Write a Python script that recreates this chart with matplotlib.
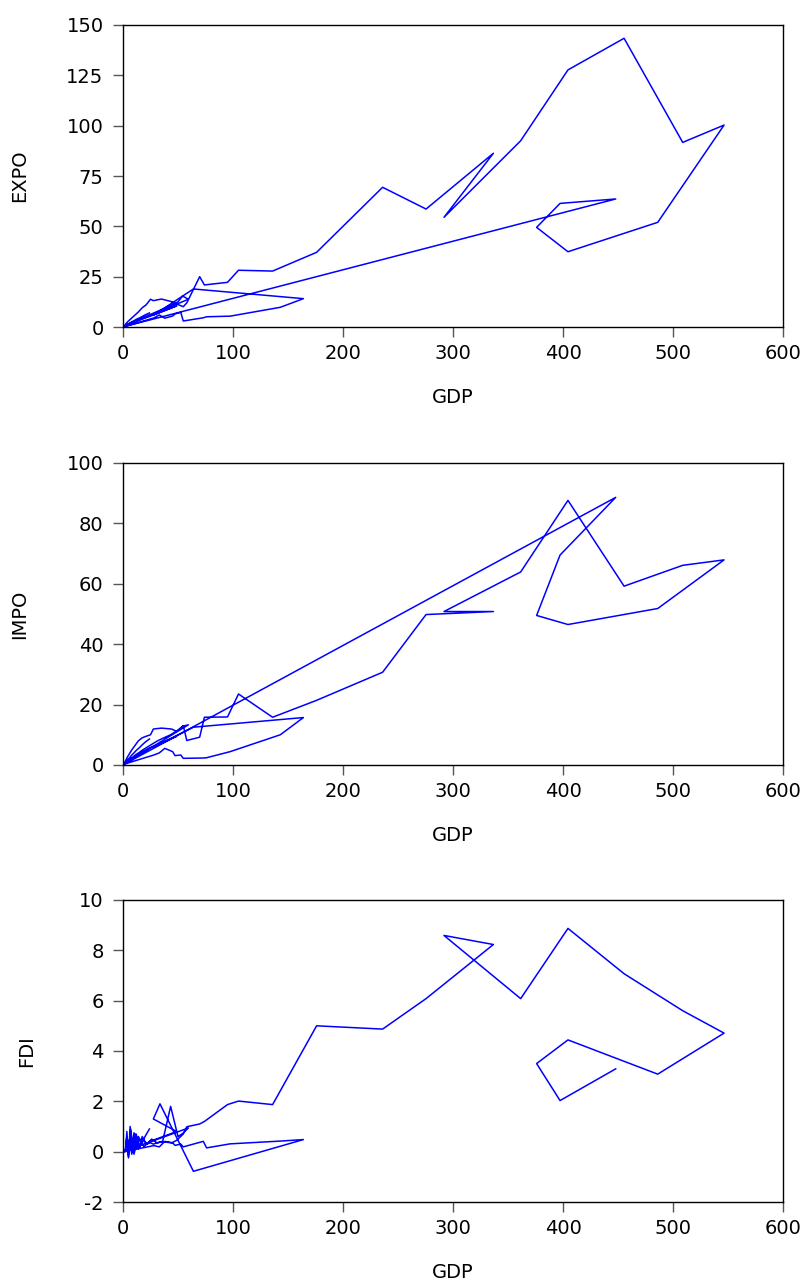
import matplotlib.pyplot as plt
import numpy as np

# panel data, stacked country by country (GDP on x, EXPO / IMPO / FDI on y)
gdp_a = [0.8, 1.5, 2.5, 4, 6, 8, 11, 14, 17.5, 21, 25, 27.6, 35, 44.2, 48.8, 54.8, 58, 69.7, 74, 95,
         105, 136, 176, 236, 275.5, 336.7, 291.8, 361.5, 404.5, 455.5, 508.8, 546.4, 486.1, 404.5,
         376, 397.3, 447.9]
expo_a = [0.3, 0.8, 1.5, 2.5, 3.5, 4.5, 6, 7.5, 9.6, 11, 13.8, 13.1, 13.9, 12.6, 11.4, 10.1, 12, 25,
          20.9, 22.2, 28.2, 27.8, 37.1, 69.4, 58.6, 86.3, 54.5, 92.5, 127.7, 143.4, 91.7, 100.3, 52.0,
          37.4, 49.5, 61.4, 63.6]
impo_a = [0.3, 0.8, 1.5, 2.6, 3.8, 5, 6.5, 8, 9, 9.5, 10, 11.9, 12.2, 11.9, 11.1, 13, 8.1, 9.2, 15.8,
          15.9, 23.5, 15.8, 21.4, 30.7, 49.8, 50.8, 50.8, 63.9, 87.6, 59.2, 66.1, 67.9, 51.8, 46.5,
          49.5, 69.5, 88.6]
fdi_a = [0.0, 0.05, 0.1, 0.0, 0.5, -0.1, 0.7, 0.1, 0.6, 0.3, 0.35, 0.3, 0.4, 0.35, 0.45, 0.7, 0.99,
         1.1, 1.2, 1.87, 2.01, 1.87, 5.0, 4.87, 6.08, 8.23, 8.59, 6.08, 8.87, 7.07, 5.6, 4.71, 3.08,
         4.44, 3.5, 2.03, 3.29]

gdp_b = [1.0, 2.5, 4.5, 7, 10, 14, 19, 24, 48.8, 27.6, 33.6, 64, 164, 143, 97.3, 76, 73, 54.8, 52.5,
         47.3, 45.2, 38, 33, 28]
expo_b = [0.2, 0.6, 1.1, 1.7, 2.4, 3.3, 4.3, 5.2, 10.5, 6.0, 8.0, 18.9, 14.1, 9.8, 5.4, 5.1, 4.6, 3.0,
          7.3, 6.5, 5.5, 4.4, 6.0, 4.5]
impo_b = [0.2, 0.7, 1.2, 1.9, 2.6, 3.6, 4.6, 5.6, 9.5, 5.8, 7.0, 12.5, 15.7, 10.0, 4.4, 2.4, 2.3, 2.2,
          3.3, 3.1, 4.4, 5.5, 4.0, 3.3]
fdi_b = [np.nan, 0.0, 0.1, 0.7, -0.1, 0.6, 0.2, 0.4, 0.8, 1.3, 1.9, -0.78, 0.48, 0.42, 0.31, 0.15,
         0.41, 0.19, 0.3, 0.25, 0.35, 0.41, 0.19, 0.24]

gdp_c = [0.5, 1.2, 2, 3.5, 5, 7, 9.5, 12, 15, 18, 22, 26, 31, 36, 43.3, 50, 54.2, 59.4]
expo_c = [0.1, 0.4, 0.6, 1.0, 1.5, 2.0, 2.6, 3.2, 3.9, 4.6, 5.6, 6.5, 7.7, 8.9, 10.8, 12.5, 15.4, 13.8]
impo_c = [0.2, 0.4, 0.7, 1.1, 1.5, 2.1, 2.8, 3.5, 4.2, 5.0, 5.9, 6.8, 7.9, 8.8, 10.0, 11.5, 12.8, 13.3]
fdi_c = [0.0, 0.02, 0.05, 0.6, -0.2, 0.9, 0.0, 0.7, 0.15, 0.5, 0.3, 0.5, 0.35, 0.4, 1.8, 0.6, 0.72, 0.94]

gdp_d = [0.3, 0.8, 1.5, 2.5, 3.5, 5, 6.5, 8, 10, 12, 14.5, 17, 20, 24]
expo_d = [0.1, 0.3, 0.5, 0.9, 1.2, 1.6, 2.1, 2.6, 3.1, 3.8, 4.4, 5.1, 6.0, 7.0]
impo_d = [0.1, 0.3, 0.6, 1.0, 1.4, 2.0, 2.6, 3.3, 4.0, 4.8, 5.6, 6.5, 7.5, 8.6]
fdi_d = [0.0, 0.0, 0.05, 0.1, 0.8, -0.25, 1.0, 0.0, 0.75, 0.1, 0.5, 0.3, 0.6, 0.9]

gdp = np.array(gdp_a + gdp_b + gdp_c + gdp_d)
expo = np.array(expo_a + expo_b + expo_c + expo_d)
impo = np.array(impo_a + impo_b + impo_c + impo_d)
fdi = np.array(fdi_a + fdi_b + fdi_c + fdi_d)

plt.rcParams['font.family'] = ['DejaVu Sans']
plt.rcParams['axes.unicode_minus'] = False

fig = plt.figure(figsize=(8.06, 12.82), dpi=100)

panels = [(expo, 'EXPO', (0, 150), 25, 0.7449, -0.142),
          (impo, 'IMPO', (0, 100), 20, 0.4033, -0.142),
          (fdi, 'FDI', (-2, 10), 2, 0.0624, -0.132)]

for y, name, lim, step, bottom, ylab_x in panels:
    ax = fig.add_axes([0.1526, bottom, 0.8189, 0.2356])
    ax.plot(gdp, y, color='#0000ff', lw=1.1)
    ax.set_xlim(0, 600)
    ax.set_ylim(*lim)
    ax.set_xticks(np.arange(0, 601, 100))
    ax.set_yticks(np.arange(lim[0], lim[1] + 1, step))
    ax.tick_params(direction='out', length=7, width=1, color='#555555', labelsize=14)
    ax.tick_params(axis='y', pad=7)
    ax.tick_params(axis='x', pad=5)
    for s in ax.spines.values():
        s.set_linewidth(1.0)
    ax.set_xlabel('GDP', fontsize=14)
    ax.xaxis.set_label_coords(0.5, -0.202)
    ax.set_ylabel(name, fontsize=14)
    ax.yaxis.set_label_coords(ylab_x, 0.5)

fig.savefig('out.png', dpi=100)
